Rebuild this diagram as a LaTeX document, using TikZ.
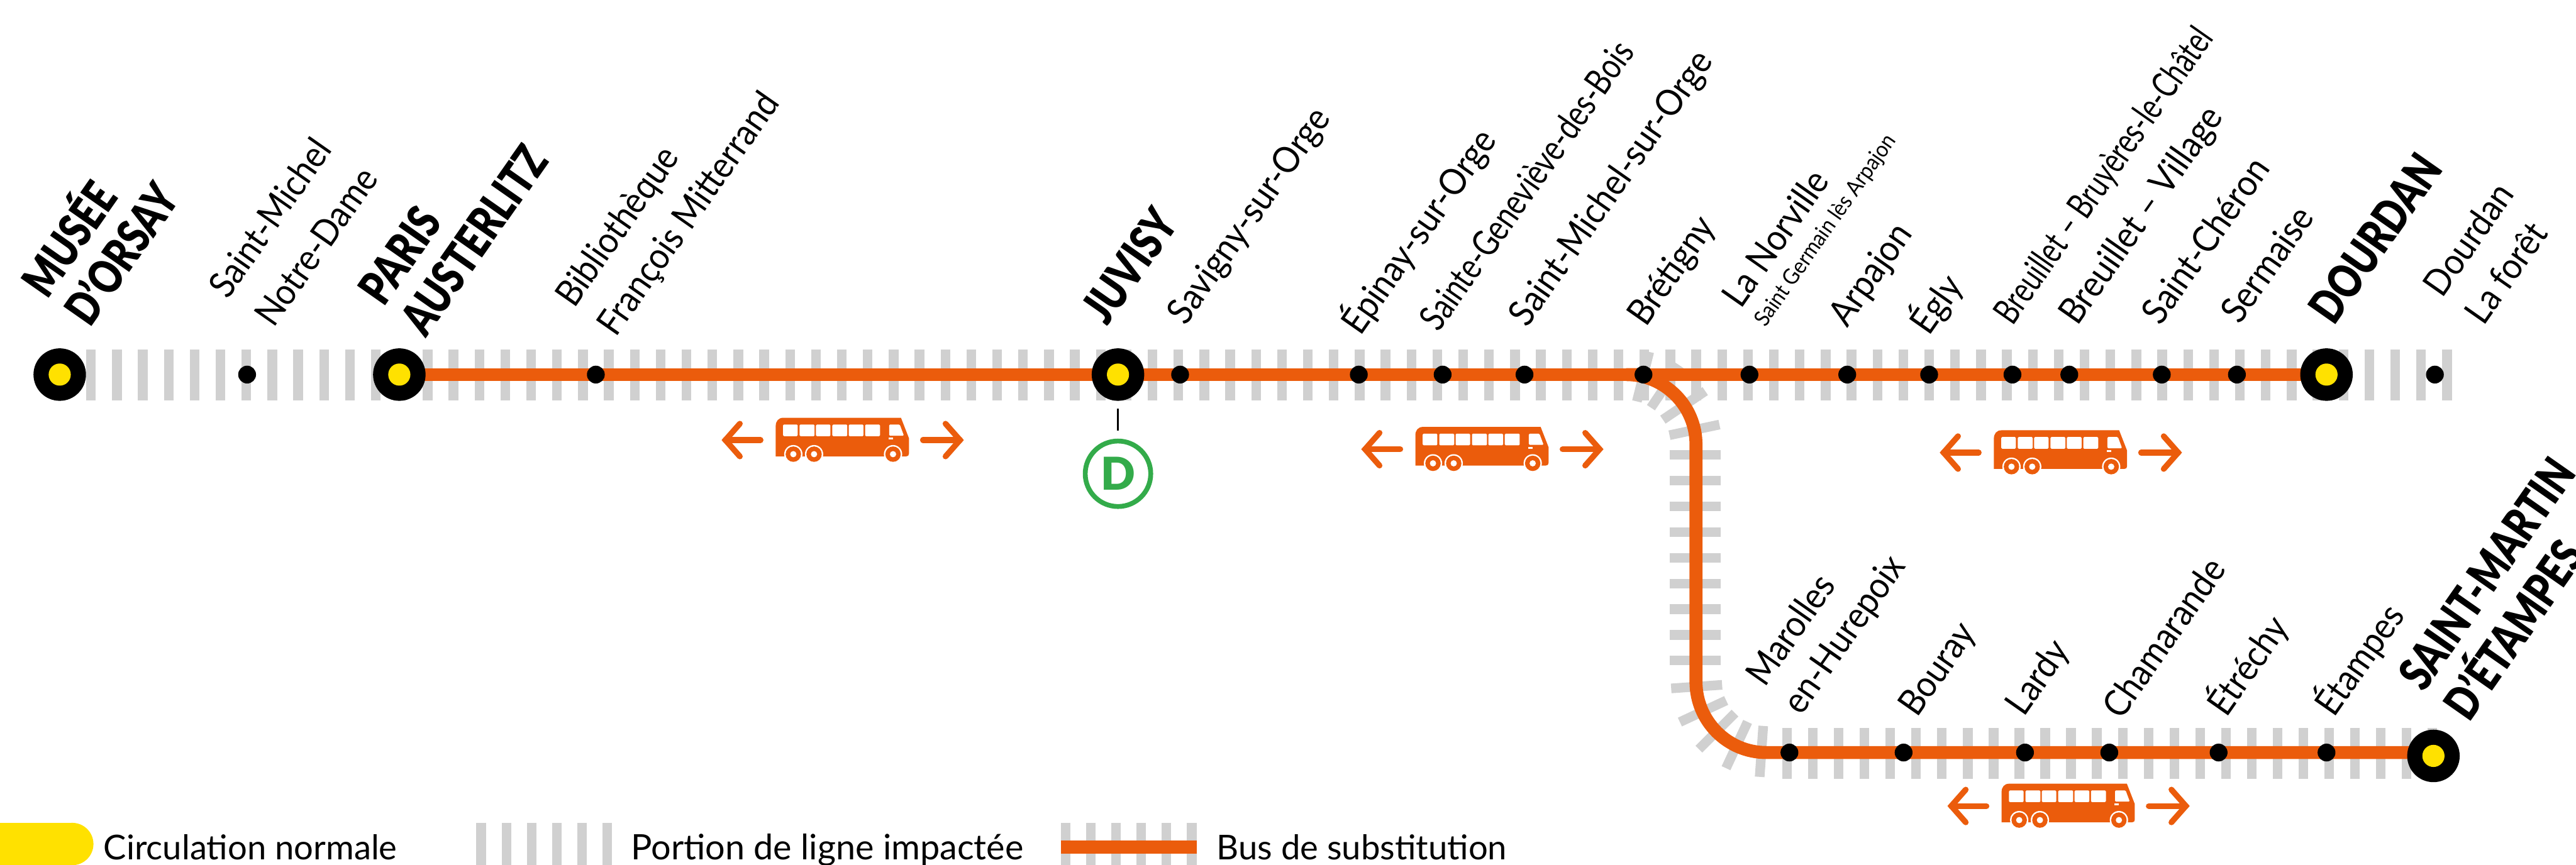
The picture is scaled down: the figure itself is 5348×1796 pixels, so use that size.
\documentclass[tikz,border=0pt]{standalone}
\usepackage{fontspec}
\setmainfont{Lato}
\usetikzlibrary{backgrounds}
\definecolor{busorange}{HTML}{EB5C0C}
\definecolor{tiegray}{HTML}{D0D0D0}
\definecolor{stopyellow}{HTML}{FFE100}
\definecolor{rergreen}{HTML}{33AB4A}
\newfontfamily\heavyfont[FakeStretch=0.78]{Lato Black}
\newfontfamily\blackfont{Lato Black}
\newfontfamily\narrowfont[FakeStretch=0.91]{Lato}
\newfontfamily\tightfont[FakeStretch=0.79]{Lato}
\newfontfamily\tighterfont[FakeStretch=0.74]{Lato}
\tikzset{
 stationnode/.style={circle,fill=black,draw=none,minimum size=109pt,inner sep=0pt},
 stopdot/.style={circle,fill=black,draw=none,minimum size=37pt,inner sep=0pt},
 hub/.style={circle,fill=stopyellow,draw=none,minimum size=46pt,inner sep=0pt},
 tie/.style={draw=tiegray,line width=20pt},
 busline/.style={draw=busorange,line width=27pt},
 lbl/.style={rotate=55,anchor=base west,inner sep=0pt,font=\narrowfont\fontsize{76}{80}\selectfont},
 lbltight/.style={rotate=55,anchor=base west,inner sep=0pt,font=\tightfont\fontsize{76}{80}\selectfont},
 lbltighter/.style={rotate=55,anchor=base west,inner sep=0pt,font=\tighterfont\fontsize{76}{80}\selectfont},
 lblsmall/.style={rotate=55,anchor=base west,inner sep=0pt,font=\narrowfont\fontsize{46}{50}\selectfont},
 lblbig/.style={rotate=55,anchor=base west,inner sep=0pt,font=\heavyfont\fontsize{98}{100}\selectfont},
 legendtext/.style={anchor=base west,inner sep=0pt,font=\fontsize{71}{76}\selectfont},
 arrowline/.style={draw=busorange,line width=12pt,line cap=round,line join=miter},
}
\newcommand{\busicon}[2]{%
 \begin{scope}[shift={(#1,#2)}]
 \fill[busorange] (1610.4,948) -- (1610.4,885) .. controls (1610.4,875) and (1616,867.7) .. (1626,867.7) -- (1870.5,867.7) -- (1887,910) -- (1887,942) .. controls (1887,946) and (1885,948) .. (1881,948) -- cycle;
 \foreach \xa/\xb in {1625.7/1656,1660/1691,1694/1724,1728/1759,1762/1792.5,1796/1827}{
  \fill[white,rounded corners=2pt] (\xa,881.7) rectangle (\xb,906);}
 \fill[white,rounded corners=2pt] (1846,881.7) -- (1868,881.7) -- (1876.6,905) -- (1846,905) -- cycle;
 \fill[white] (1845,909) rectangle (1854,913);
 \foreach \wx in {1647,1690,1854}{
  \fill[white] (\wx,943.3) circle[radius=19pt];
  \fill[busorange] (\wx,943.3) circle[radius=16pt];
  \fill[white] (\wx,943.3) circle[radius=6.5pt];}
 \draw[arrowline] (1536,880) -- (1506,914) -- (1536,948);
 \draw[arrowline] (1506,914) -- (1579,914);
 \draw[arrowline] (1963,880) -- (1993,914) -- (1963,948);
 \draw[arrowline] (1993,914) -- (1916,914);
 \end{scope}}
\begin{document}
\begin{tikzpicture}[x=1pt,y=-1pt]
\useasboundingbox (0,0) rectangle (5348,1796);
\clip (0,0) rectangle (5348,1796);
% stations
\foreach \nm/\px/\py in {orsay/124/778,paris/829/778,juvisy/2321/778,dourdan/4830/778,martin/5052/1570}{
 \node[stationnode] (\nm) at (\px,\py) {};
 \node[hub] (\nm y) at (\px,\py) {};}
\foreach \nm/\px in {smnd/513,bib/1237,savigny/2450,epinay/2821,sgdb/2995,smso/3165,bretigny/3412,norville/3632,arpajon/3835,egly/4005,bbc/4178,bv/4296,cheron/4488,sermaise/4644,foret/5055}{
 \node[stopdot] (\nm) at (\px,778) {};}
\foreach \nm/\px in {marolles/3715,bouray/3952,lardy/4204,chamarande/4379,etrechy/4606,etampes/4830}{
 \node[stopdot] (\nm) at (\px,1563) {};}
\begin{scope}[on background layer]
 \foreach \k in {0,...,91}{\draw[tie] ({189+53.75*\k},726) -- ({189+53.75*\k},832);}
 \foreach \t in {14,34,56,78}{\draw[tie] ({3376+92*sin(\t)},{923-92*cos(\t)}) -- ({3376+198*sin(\t)},{923-198*cos(\t)});}
 \foreach \vy in {945,998.5,1052,1105,1158.6,1212,1265,1318.5,1372}{\draw[tie] (3466,\vy) -- (3572,\vy);}
 \foreach \t in {4,25,45,65,86}{\draw[tie] ({3667-92*cos(\t)},{1416+92*sin(\t)}) -- ({3667-198*cos(\t)},{1416+198*sin(\t)});}
 \foreach \k in {0,...,25}{\draw[tie] ({3710+53.6*\k},1512) -- ({3710+53.6*\k},1618);}
 \draw[busline] (paris.center) -- (dourdan.center);
 \draw[busline] (bretigny.center) -- (3376,778) .. controls (3456,778) and (3521,843) .. (3521,923) -- (3521,1416) .. controls (3521,1497) and (3586,1563) .. (3667,1563) -- (martin.center |- marolles.center);
\end{scope}
% D
\node[circle,draw=rergreen,line width=10pt,minimum size=136pt,inner sep=0pt,text=rergreen,font=\blackfont\fontsize{94}{100}\selectfont] (rerd) at (2321,984) {D};
\draw[line width=4.5pt] (2321,849) -- (2321,895);
% buses
\busicon{0}{0}
\busicon{1328}{19}
\busicon{2529}{26}
\busicon{2545}{760}
% labels
\node[lblbig] (l1) at (98,624) {MUSÉE};
\node[lblbig] (l2) at (187,683) {D’ORSAY};
\node[lbl] (l3) at (473,624) {Saint-Michel};
\node[lbl] (l4) at (569,683) {Notre-Dame};
\node[lblbig] (l5) at (797,639) {PARIS};
\node[lblbig] (l6) at (884,703) {AUSTERLITZ};
\node[lbl] (l7) at (1192,642) {Bibliothèque};
\node[lbl] (l8) at (1279,702) {François Mitterrand};
\node[lblbig] (l9) at (2299,679) {JUVISY};
\node[lbl] (l10) at (2462,678) {Savigny-sur-Orge};
\node[lbl] (l11) at (2824,699) {Épinay-sur-Orge};
\node[lbltight] (l12) at (2987,692) {Sainte-Geneviève-des-Bois};
\node[lbl] (l13) at (3171,682) {Saint-Michel-sur-Orge};
\node[lbl] (l14) at (3417,681) {Brétigny};
\node[lbl] (l15) at (3614,643) {La Norville};
\node[lblsmall] (l16) at (3665,681) {Saint Germain lès Arpajon};
\node[lbl] (l17) at (3835,683) {Arpajon};
\node[lbl] (l18) at (4005,699) {Égly};
\node[lbltighter] (l19) at (4178,678) {Breuillet – Bruyères-le-Châtel};
\node[lbl] (l20) at (4313,679) {Breuillet – Village};
\node[lbl] (l21) at (4486,678) {Saint-Chéron};
\node[lbl] (l22) at (4650,676) {Sermaise};
\node[lblbig] (l23) at (4846,678) {DOURDAN};
\node[lbl] (l24) at (5070,621) {Dourdan};
\node[lbl] (l25) at (5157,678) {La forêt};
\node[lbl] (l26) at (3664,1429) {Marolles};
\node[lbl] (l27) at (3740,1488) {en-Hurepoix};
\node[lbl] (l28) at (3980,1492) {Bouray};
\node[lbl] (l29) at (4202,1490) {Lardy};
\node[lbl] (l30) at (4404,1497) {Chamarande};
\node[lbl] (l31) at (4622,1492) {Étréchy};
\node[lbl] (l32) at (4846,1492) {Étampes};
\node[lblbig] (l33) at (5032,1439) {SAINT-MARTIN};
\node[lblbig] (l34) at (5127,1502) {D’ÉTAMPES};
% legend
\fill[stopyellow] (-60,1709) rectangle (150,1797);
\fill[stopyellow] (150,1753) circle[radius=44pt];
\foreach \k in {0,...,5}{
 \draw[tie] ({999+52.4*\k},1709) -- ({999+52.4*\k},1815);
 \draw[tie] ({2212+52.4*\k},1709) -- ({2212+52.4*\k},1815);}
\draw[busline] (2202,1759.5) -- (2484,1759.5);
\node[legendtext] (t1) at (215,1786) {Circulation normale};
\node[legendtext,font=\fontsize{72.8}{76}\selectfont] (t2) at (1310,1786) {Portion de ligne impactée};
\node[legendtext] (t3) at (2526,1786) {Bus de substitution};
\end{tikzpicture}
\end{document}
